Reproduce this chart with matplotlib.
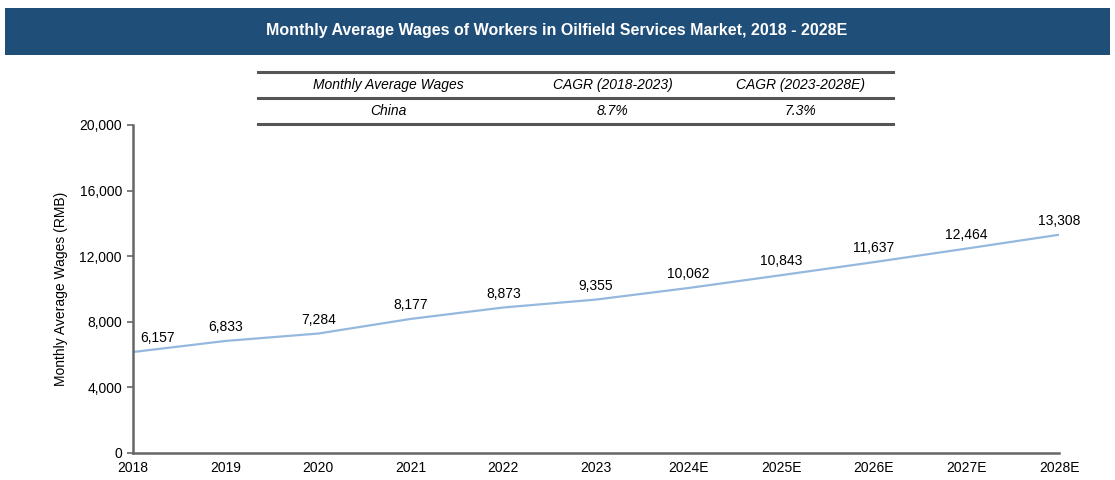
import matplotlib
matplotlib.use("Agg")
import matplotlib.pyplot as plt
from matplotlib.patches import Rectangle
from matplotlib.lines import Line2D

years = ["2018", "2019", "2020", "2021", "2022", "2023", "2024E", "2025E", "2026E", "2027E", "2028E"]
wages = [6157, 6833, 7284, 8177, 8873, 9355, 10062, 10843, 11637, 12464, 13308]
yticks = [0, 4000, 8000, 12000, 16000, 20000]
table_header = ["Monthly Average Wages", "CAGR (2018-2023)", "CAGR (2023-2028E)"]
table_row = ["China", "8.7%", "7.3%"]
title = "Monthly Average Wages of Workers in Oilfield Services Market, 2018 - 2028E"

plt.rcParams['font.family'] = ['Liberation Sans', 'DejaVu Sans']

W, H = 1115, 480
fig = plt.figure(figsize=(W / 100, H / 100), dpi=100)

def fx(px):
    return px / W

def fy(py):
    return 1 - py / H

# Title bar
fig.patches.append(Rectangle((fx(5), fy(55)), fx(1105), (55 - 8) / H,
                             transform=fig.transFigure, facecolor="#1F4E79",
                             edgecolor="none", zorder=0))
fig.text(fx(557), fy(31), title, color="white", fontsize=11.5, fontweight="bold",
         ha="center", va="center")

# Table
tl, tr = fx(258), fx(893)
for py, lw in [(72, 2.2), (98, 2.2), (124, 2.2)]:
    fig.add_artist(Line2D([tl, tr], [fy(py), fy(py)], transform=fig.transFigure,
                          color="#555555", lw=lw))
col_x = [388, 613, 800]
for cx, txt in zip(col_x, table_header):
    fig.text(fx(cx), fy(85), txt, fontsize=10, style="italic", ha="center", va="center")
for cx, txt in zip(col_x, table_row):
    fig.text(fx(cx), fy(111), txt, fontsize=10, style="italic", ha="center", va="center")

# Axes
ax = fig.add_axes([fx(133), fy(453), fx(1059) - fx(133), (453 - 125) / H])
x = list(range(len(years)))
ax.plot(x, wages, color="#95B9DE", lw=1.6)
ax.set_xlim(0, len(years) - 1)
ax.set_ylim(0, 20000)
ax.set_yticks(yticks)
ax.set_yticklabels([f"{v:,}" for v in yticks], fontsize=10)
ax.set_xticks(x)
ax.set_xticklabels(years, fontsize=10)
ax.tick_params(axis="x", length=0, pad=6)
ax.tick_params(axis="y", length=4, width=1.2, color="#666666", pad=4)
for s in ["top", "right"]:
    ax.spines[s].set_visible(False)
for s in ["left", "bottom"]:
    ax.spines[s].set_color("#666666")
    ax.spines[s].set_linewidth(1.8)
ax.set_ylabel("Monthly Average Wages (RMB)", fontsize=10, labelpad=8)

for i, v in enumerate(wages):
    dx = 18 if i == 0 else 0
    ax.annotate(f"{v:,}", (i, v), xytext=(dx, 5), textcoords="offset points",
                ha="center", va="bottom", fontsize=10)

fig.savefig("out.png", dpi=100)
